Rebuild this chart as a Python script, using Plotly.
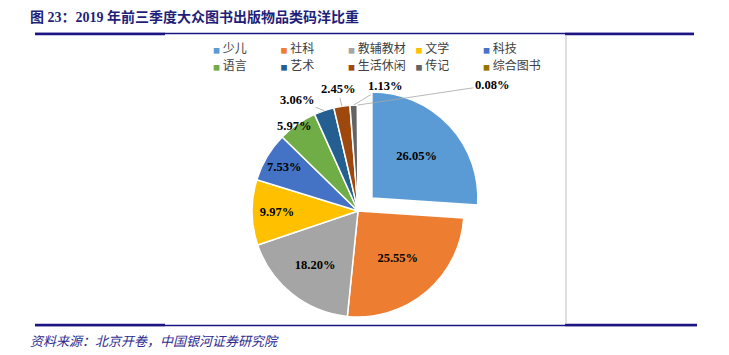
import math
import plotly.graph_objects as go

# ---- data ----
categories = ["少儿", "社科", "教辅教材", "文学", "科技", "语言", "艺术", "生活休闲", "传记", "综合图书"]
shares = [26.05, 25.55, 18.20, 9.97, 7.53, 5.97, 3.06, 2.45, 1.13, 0.08]
colors = ["#5B9BD5", "#ED7D31", "#A5A5A5", "#FFC000", "#4472C4",
          "#70AD47", "#255E91", "#9E480E", "#636363", "#997300"]
inside_count = 5
pulls = [0.18] + [0] * 9

title_text = "图 23：2019 年前三季度大众图书出版物品类码洋比重"
source_text = "资料来源：北京开卷，中国银河证券研究院"

# ---- layout geometry (pixels) ----
W, H = 729, 355
ML, MR, MT, MB = 150, 129, 36, 19
PW, PH = W - ML - MR, H - MT - MB

PIE_CX, PIE_CY, PIE_BOX = 358, 211, 250
MAXPULL = max(pulls)
PIE_R = PIE_BOX / (2 + 2 * MAXPULL)

# outside label offsets (pixels from slice edge midpoint), and whether a leader line is drawn
outside_offsets = [(-22, -7), (-27, -11), (-4, -17), (31, -19), (134, -20)]
outside_lines = [False, True, True, True, True]


def px(x):
    return (x - ML) / PW


def py(y):
    return (H - MB - y) / PH


NAVY = "#1C1683"
LABEL_FONT = dict(family="Liberation Serif", size=12.5, color="black", weight="bold")

fig = go.Figure()
fig.add_trace(go.Pie(
    labels=categories,
    values=shares,
    sort=False,
    direction="clockwise",
    rotation=0,
    pull=pulls,
    marker=dict(colors=colors, line=dict(color="white", width=1.5)),
    text=[f"{v:.2f}%" if i < inside_count else "" for i, v in enumerate(shares)],
    texttemplate="%{text}",
    textposition="inside",
    insidetextorientation="horizontal",
    textfont=LABEL_FONT,
    domain=dict(x=[px(PIE_CX - PIE_BOX / 2), px(PIE_CX + PIE_BOX / 2)],
                y=[py(PIE_CY + PIE_BOX / 2), py(PIE_CY - PIE_BOX / 2)]),
    hoverinfo="label+percent",
    showlegend=False,
))

# legend entries (two rows of five, as in the original); the small colour key sits
# right before the name, as in the source chart
for i, (cat, col) in enumerate(zip(categories, colors)):
    fig.add_trace(go.Scatter(
        x=[None], y=[None], mode="none",
        name=f'<span style="color:{col};font-size:7px">■</span> {cat}',
        legend="legend" if i < 5 else "legend2",
        legendwidth=60 if i % 5 == 4 else 22.5,
        showlegend=True, hoverinfo="skip",
    ))

# outside labels for the small slices, anchored on the slice edge
total = sum(shares)
cum = 0.0
annotations = []
for i, v in enumerate(shares):
    mid = cum + v / 2
    cum += v
    if i < inside_count:
        continue
    theta = 2 * math.pi * mid / total
    ex = PIE_CX + PIE_R * math.sin(theta)
    ey = PIE_CY - PIE_R * math.cos(theta)
    dx, dy = outside_offsets[i - inside_count]
    if outside_lines[i - inside_count]:
        annotations.append(dict(
            x=px(ex), y=py(ey), xref="paper", yref="paper", text=f"{v:.2f}%",
            showarrow=True, arrowhead=0, arrowwidth=0.8, arrowcolor="#A6A6A6",
            ax=dx, ay=dy, standoff=0, font=LABEL_FONT))
    else:
        annotations.append(dict(
            x=px(ex), y=py(ey), xref="paper", yref="paper", text=f"{v:.2f}%",
            showarrow=False, xshift=dx, yshift=-dy, font=LABEL_FONT))

annotations += [
    dict(text=title_text, xref="paper", yref="paper", x=px(28), y=py(17), xanchor="left", yanchor="middle",
         showarrow=False, font=dict(family="Liberation Serif, Noto Sans CJK SC", size=14, color="#1F1F7A",
                                    weight="bold")),
    dict(text=source_text, xref="paper", yref="paper", x=px(28), y=py(340), xanchor="left",
         yanchor="middle", showarrow=False,
         font=dict(family="Noto Sans CJK SC", size=13, color="#2B2B8F", style="italic")),
]

shapes = []
# top rule
shapes.append(dict(type="line", xref="paper", yref="paper", x0=px(35), x1=px(694), y0=py(33.5), y1=py(33.5),
                   line=dict(color=NAVY, width=1.5)))
shapes.append(dict(type="line", xref="paper", yref="paper", x0=px(35), x1=px(165), y0=py(34), y1=py(34),
                   line=dict(color=NAVY, width=2.5)))
shapes.append(dict(type="line", xref="paper", yref="paper", x0=px(565), x1=px(694), y0=py(34), y1=py(34),
                   line=dict(color=NAVY, width=2.5)))
# bottom rule
shapes.append(dict(type="line", xref="paper", yref="paper", x0=px(35), x1=px(697), y0=py(325.5), y1=py(325.5),
                   line=dict(color=NAVY, width=1.5)))
shapes.append(dict(type="line", xref="paper", yref="paper", x0=px(35), x1=px(165), y0=py(325), y1=py(325),
                   line=dict(color=NAVY, width=2.5)))
shapes.append(dict(type="line", xref="paper", yref="paper", x0=px(565), x1=px(697), y0=py(325), y1=py(325),
                   line=dict(color=NAVY, width=2.5)))
# chart frame right edge
shapes.append(dict(type="line", xref="paper", yref="paper", x0=px(566), x1=px(566), y0=py(35), y1=py(324),
                   line=dict(color="#BFBFBF", width=1)))

legend_common = dict(orientation="h", xanchor="left", yanchor="top", traceorder="normal",
                     entrywidthmode="pixels",
                     font=dict(family="Noto Sans CJK SC", size=12, color="#404040"),
                     itemclick=False, itemdoubleclick=False, bgcolor="rgba(0,0,0,0)")

fig.update_layout(
    width=W, height=H,
    margin=dict(l=ML, r=MR, t=MT, b=MB),
    paper_bgcolor="white",
    plot_bgcolor="white",
    xaxis=dict(visible=False),
    yaxis=dict(visible=False),
    legend=dict(x=px(173), y=py(34), **legend_common),
    legend2=dict(x=px(173), y=py(51), **legend_common),
    shapes=shapes,
    annotations=annotations,
)

fig.write_html("out.html", config={"displayModeBar": False},
               post_script="document.body.style.margin='0';")
